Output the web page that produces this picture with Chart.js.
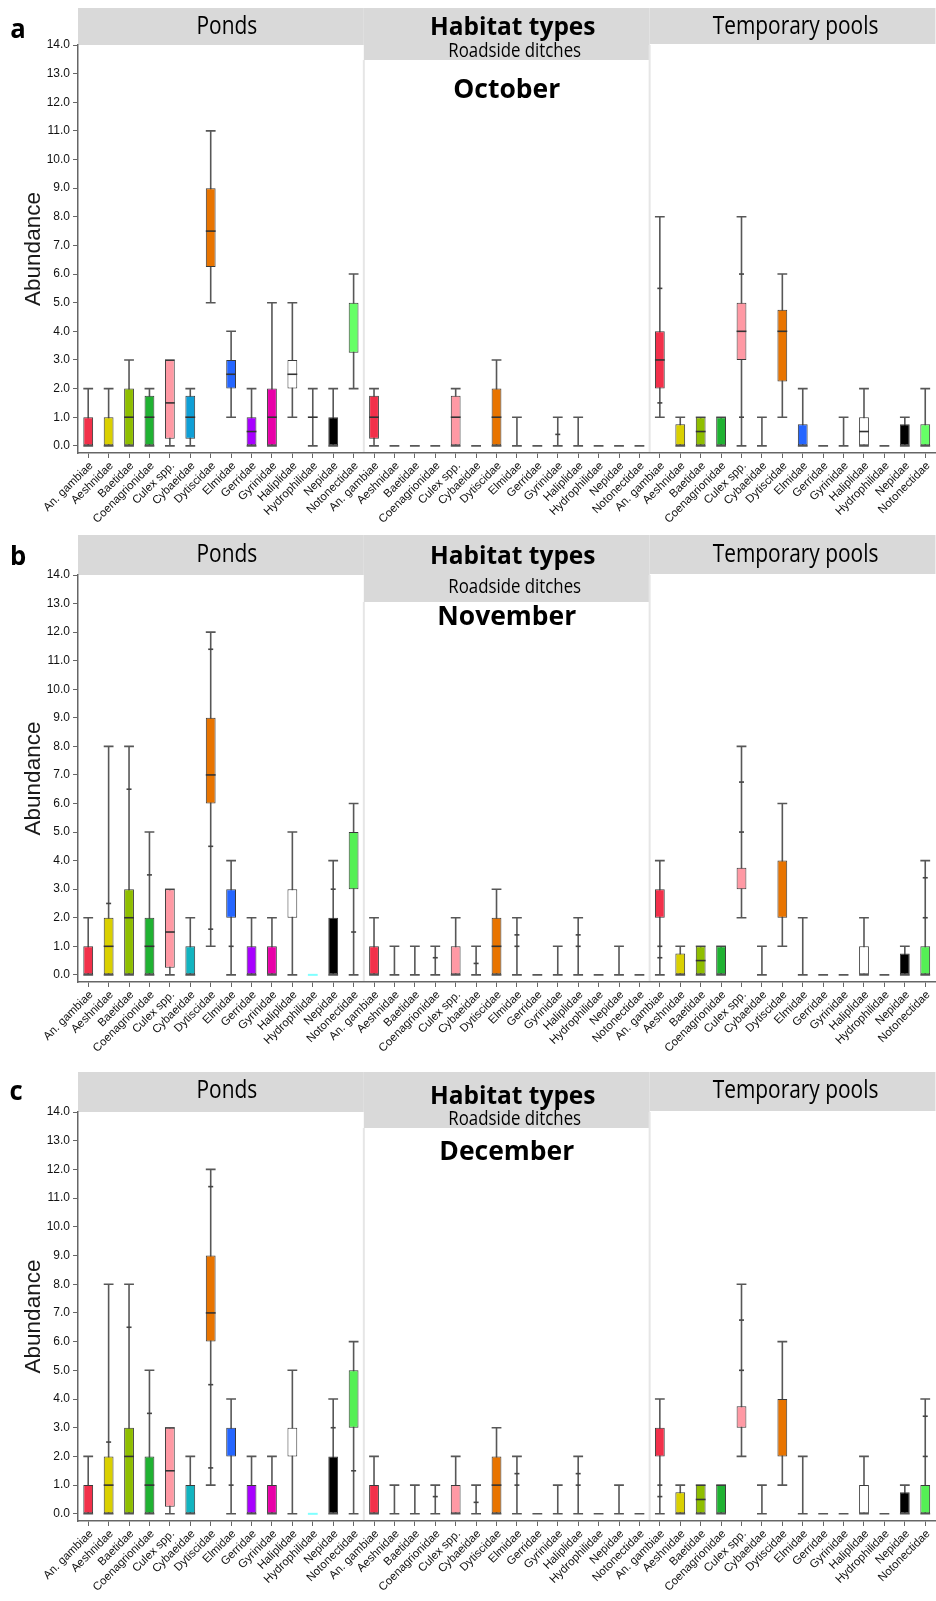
<!DOCTYPE html>
<html>
<head>
<meta charset="utf-8">
<script src="https://cdn.jsdelivr.net/npm/chart.js@4.4.1/dist/chart.umd.min.js"></script>
<style>
  html, body { margin: 0; padding: 0; background: #fff; }
  body { width: 936px; height: 1601px; position: relative; overflow: hidden; }
  .panel { position: absolute; left: 0; width: 936px; }
  canvas { display: block; }
</style>
</head>
<body>
<div class="panel" style="top:0px"><canvas id="octChart" width="936" height="540"></canvas></div>
<div class="panel" style="top:520px"><canvas id="novChart" width="936" height="550"></canvas></div>
<div class="panel" style="top:1050px"><canvas id="decChart" width="936" height="551"></canvas></div>
<script>
// habitats and families (x categories, repeated per habitat)
const habitats = ["Ponds", "Roadside ditches", "Temporary pools"];
const families = ["An. gambiae", "Aeshnidae", "Baetidae", "Coenagrionidae", "Culex spp.", "Cybaeidae",
  "Dytiscidae", "Elmidae", "Gerridae", "Gyrinidae", "Haliplidae", "Hydrophilidae", "Nepidae", "Notonectidae"];

// fill colour per family
const octColors = ["#f2304a", "#dad000", "#8fbe00", "#20b232", "#ff99a4", "#0f9fd6", "#e87400",
  "#2566ff", "#a800ff", "#e800a8", "#ffffff", "#80ffff", "#000000", "#66ff66"];
const novColors = ["#f2304a", "#dad000", "#8fbe00", "#20b232", "#ff99a4", "#12b4c0", "#e87400",
  "#2566ff", "#a800ff", "#e800a8", "#ffffff", "#80ffff", "#000000", "#55f055"];
const decColors = novColors;

// October: ponds | roadside ditches | temporary pools (null = not drawn)
const octMin = [0, 0, 0, 0, 0, 0, 5, 1, 0, 0, 1, 0, 0, 2,
  0, 0, 0, 0, 0, 0, 0, 0, 0, 0, 0, 0, 0, 0,
  1, 0, 0, 0, 0, 0, 1, 0, 0, 0, 0, 0, 0, 0];
const octQ1 = [0, 0, 0, 0, 0.25, 0.25, 6.25, 2, 0, 0, 2, null, 0, 3.25,
  0.25, null, null, null, 0, null, 0, null, null, null, null, null, null, null,
  2, 0, 0, 0, 3, null, 2.25, 0, null, null, 0, null, 0, 0];
const octMed = [null, null, 1, 1, 1.5, 1, 7.5, 2.5, 0.5, 1, 2.5, 1, null, null,
  1, null, null, null, 1, null, 1, null, null, null, null, null, null, null,
  3, null, 0.5, null, 4, null, 4, null, null, null, 0.5, null, null, null];
const octQ3 = [1, 1, 2, 1.75, 3, 1.75, 9, 3, 1, 2, 3, null, 1, 5,
  1.75, null, null, null, 1.75, null, 2, null, null, null, null, null, null, null,
  4, 0.75, 1, 1, 5, null, 4.75, 0.75, null, null, 1, null, 0.75, 0.75];
const octMax = [2, 2, 3, 2, 3, 2, 11, 4, 2, 5, 5, 2, 2, 6,
  2, 0, 0, 0, 2, 0, 3, 1, 0, 1, 1, 0, 0, 0,
  8, 1, 1, 1, 8, 1, 6, 2, 0, 1, 2, 0, 1, 2];
const octMarks = [[], [], [], [], [], [], [], [], [], [], [], [], [], [],
  [], [], [], [], [], [], [], [], [], [0.4], [], [], [], [],
  [5.5, 1.5], [], [], [], [6, 1], [], [], [], [], [], [], [], [], []];

// November
const novMin = [0, 0, 0, 0, 0, 0, 1, 0, 0, 0, 0, null, 0, 0,
  0, 0, 0, 0, 0, 0, 0, 0, 0, 0, 0, 0, 0, 0,
  0, 0, 0, 0, 2, 0, 1, 0, 0, 0, 0, 0, 0, 0];
const novQ1 = [0, 0, 0, 0, 0.25, 0, 6, 2, 0, 0, 2, 0, 0, 3,
  0, null, null, null, 0, null, 0, null, null, null, null, null, null, null,
  2, 0, 0, 0, 3, null, 2, null, null, null, 0, null, 0, 0];
const novMed = [null, 1, 2, 1, 1.5, null, 7, null, null, null, null, null, null, null,
  null, null, null, null, null, null, 1, null, null, null, null, null, null, null,
  null, null, 0.5, null, null, null, null, null, null, null, null, null, null, null];
const novQ3 = [1, 2, 3, 2, 3, 1, 9, 3, 1, 1, 3, 0, 2, 5,
  1, null, null, null, 1, null, 2, null, null, null, null, null, null, null,
  3, 0.75, 1, 1, 3.75, null, 4, null, null, null, 1, null, 0.75, 1];
const novMax = [2, 8, 8, 5, 3, 2, 12, 4, 2, 2, 5, null, 4, 6,
  2, 1, 1, 1, 2, 1, 3, 2, 0, 1, 2, 0, 1, 0,
  4, 1, 1, 1, 8, 1, 6, 2, 0, 0, 2, 0, 1, 4];
const novMarks = [[], [2.5], [6.5], [3.5], [], [], [11.4, 4.5, 1.6], [1], [], [], [], [], [3], [1.5],
  [], [], [], [0.6], [], [0.4], [], [1.4, 1], [], [], [1.4, 1], [], [], [],
  [1, 0.6], [], [], [], [6.75, 5], [], [], [], [], [], [], [], [], [3.4, 2]];

// December
const decMin = [0, 0, 0, 0, 0, 0, 1, 0, 0, 0, 0, null, 0, 0,
  0, 0, 0, 0, 0, 0, 0, 0, 0, 0, 0, 0, 0, 0,
  0, 0, 0, 0, 2, 0, 1, 0, 0, 0, 0, 0, 0, 0];
const decQ1 = [0, 0, 0, 0, 0.25, 0, 6, 2, 0, 0, 2, 0, 0, 3,
  0, null, null, null, 0, null, 0, null, null, null, null, null, null, null,
  2, 0, 0, 0, 3, null, 2, null, null, null, 0, null, 0, 0];
const decMed = [null, 1, 2, 1, 1.5, null, 7, null, null, null, null, null, null, null,
  null, null, null, null, null, null, 1, null, null, null, null, null, null, null,
  null, null, 0.5, null, null, null, null, null, null, null, null, null, null, null];
const decQ3 = [1, 2, 3, 2, 3, 1, 9, 3, 1, 1, 3, 0, 2, 5,
  1, null, null, null, 1, null, 2, null, null, null, null, null, null, null,
  3, 0.75, 1, 1, 3.75, null, 4, null, null, null, 1, null, 0.75, 1];
const decMax = [2, 8, 8, 5, 3, 2, 12, 4, 2, 2, 5, null, 4, 6,
  2, 1, 1, 1, 2, 1, 3, 2, 0, 1, 2, 0, 1, 0,
  4, 1, 1, 1, 8, 1, 6, 2, 0, 0, 2, 0, 1, 4];
const decMarks = [[], [2.5], [6.5], [3.5], [], [], [11.4, 4.5, 1.6], [1], [], [], [], [], [3], [1.5],
  [], [], [], [0.6], [], [0.4], [], [1.4, 1], [], [], [1.4, 1], [], [], [],
  [1, 0.6], [], [], [], [6.75, 5], [], [], [], [], [], [], [], [], [3.4, 2]];

const categories = habitats.flatMap(() => families);

// drawn text in a narrower face (the original uses Calibri)
function squeezeText(ctx, text, x, y, font, sx) {
  ctx.save();
  ctx.translate(x, y);
  ctx.scale(sx, 1);
  ctx.font = font;
  ctx.fillStyle = "#000";
  ctx.textAlign = "center";
  ctx.textBaseline = "middle";
  ctx.fillText(text, 0, 0);
  ctx.restore();
}

const boxPlugin = {
  id: "boxExtras",
  beforeDraw(chart, args, o) {
    const ctx = chart.ctx;
    const area = chart.chartArea;
    const x = chart.scales.x;
    const T = area.top;
    const s1 = x.getPixelForValue(13.5);
    const s2 = x.getPixelForValue(27.5);
    ctx.save();
    // header bands
    ctx.fillStyle = "#d9d9d9";
    ctx.fillRect(area.left, T - o.bandUp, s1 - area.left, o.bandUp);
    ctx.fillRect(s1, T - o.bandUp, s2 - s1, o.bandUp + o.roadDown);
    ctx.fillRect(s2, T - o.bandUp, area.right - s2, o.bandUp - 1);
    // habitat separators
    ctx.strokeStyle = "#e6e6e6";
    ctx.lineWidth = 2;
    ctx.beginPath();
    ctx.moveTo(s1, T + o.roadDown); ctx.lineTo(s1, area.bottom);
    ctx.moveTo(s2, T); ctx.lineTo(s2, area.bottom);
    ctx.stroke();
    ctx.restore();
    const mid = (s1 + s2) / 2;
    squeezeText(ctx, habitats[0], (area.left + s1) / 2 + 6, T + o.pondY, "25.5px 'Open Sans'", 0.82);
    squeezeText(ctx, habitats[2], (s2 + area.right) / 2 + 3, T + o.pondY, "25.5px 'Open Sans'", 0.82);
    squeezeText(ctx, "Habitat types", mid + 6, T + o.habY, "bold 25.5px 'Open Sans'", 0.96);
    squeezeText(ctx, habitats[1], mid + 8, T + o.roadY, "20.5px 'Open Sans'", 0.82);
    squeezeText(ctx, o.month, mid, T + o.monthY, "bold 27px 'Open Sans'", 0.98);
    squeezeText(ctx, o.letter, o.letterX, o.letterY, "bold 27px 'Open Sans'", 0.95);
  },
  beforeDatasetsDraw(chart, args, o) {
    const ctx = chart.ctx;
    const x = chart.scales.x, y = chart.scales.y;
    const half = (x.getPixelForValue(1) - x.getPixelForValue(0)) * 0.24;
    ctx.save();
    ctx.strokeStyle = "#575757";
    ctx.lineWidth = 1.6;
    o.min.forEach((lo, i) => {
      const hi = o.max[i];
      if (lo === null || hi === null) return;
      const cx = x.getPixelForValue(i);
      const y0 = y.getPixelForValue(lo), y1 = y.getPixelForValue(hi);
      ctx.beginPath();
      ctx.moveTo(cx, y0); ctx.lineTo(cx, y1);
      ctx.moveTo(cx - half, y0); ctx.lineTo(cx + half, y0);
      ctx.moveTo(cx - half, y1); ctx.lineTo(cx + half, y1);
      ctx.stroke();
    });
    ctx.restore();
  },
  afterDatasetsDraw(chart, args, o) {
    const ctx = chart.ctx;
    const x = chart.scales.x, y = chart.scales.y;
    const half = (x.getPixelForValue(1) - x.getPixelForValue(0)) * 0.24;
    ctx.save();
    o.q1.forEach((lo, i) => {
      if (lo === null || o.q3[i] !== lo) return;
      const cx = x.getPixelForValue(i);
      ctx.strokeStyle = o.colors[i % families.length];
      ctx.lineWidth = 2;
      ctx.beginPath();
      ctx.moveTo(cx - half, y.getPixelForValue(lo)); ctx.lineTo(cx + half, y.getPixelForValue(lo));
      ctx.stroke();
    });
    ctx.strokeStyle = "#333";
    ctx.lineWidth = 1.6;
    o.med.forEach((m, i) => {
      if (m === null) return;
      const cx = x.getPixelForValue(i);
      const py = y.getPixelForValue(m);
      ctx.beginPath();
      ctx.moveTo(cx - half, py); ctx.lineTo(cx + half, py);
      ctx.stroke();
    });
    ctx.strokeStyle = "#444";
    o.marks.forEach((list, i) => {
      const cx = x.getPixelForValue(i);
      list.forEach(v => {
        const py = y.getPixelForValue(v);
        ctx.beginPath();
        ctx.moveTo(cx - 2.5, py); ctx.lineTo(cx + 2.5, py);
        ctx.stroke();
      });
    });
    ctx.restore();
  }
};

const tickFont = { family: "'Liberation Sans', Arial, sans-serif", size: 12 };
const labelFont = { family: "'Liberation Sans', Arial, sans-serif", size: 11.5 };

function makePanel(p) {
  const colors42 = habitats.flatMap(() => p.colors);
  const boxes = p.q1.map((v, i) => (v === null || p.q3[i] === null || p.q3[i] === v) ? null : [v, p.q3[i]]);
  new Chart(document.getElementById(p.id), {
    type: "bar",
    data: {
      labels: categories,
      datasets: [{
        data: boxes,
        backgroundColor: colors42,
        borderColor: "#3a3a3a",
        borderWidth: 1,
        borderSkipped: false,
        categoryPercentage: 1,
        barPercentage: 0.48
      }]
    },
    options: {
      responsive: false,
      animation: false,
      layout: { padding: { top: p.padTop, bottom: p.padBottom, left: 0, right: 0 } },
      plugins: {
        legend: { display: false },
        tooltip: { enabled: false },
        boxExtras: p
      },
      scales: {
        x: {
          grid: { offset: false, drawOnChartArea: false, tickLength: 5, color: "#666" },
          border: { color: "#666", width: 1.5 },
          ticks: { autoSkip: false, maxRotation: 45, minRotation: 45, font: labelFont, color: "#111",
            padding: 1, labelOffset: 3 },
          afterFit(s) { s.height = 80; }
        },
        y: {
          min: -0.25,
          max: 14,
          grid: { drawOnChartArea: false, tickLength: 5, color: "#666" },
          border: { color: "#666", width: 1.5 },
          ticks: { stepSize: 1, includeBounds: false, font: tickFont, color: "#111", padding: 3,
            callback: v => v.toFixed(1) },
          title: { display: true, text: "Abundance", color: "#1a1a1a",
            font: { family: "'Liberation Sans', Arial, sans-serif", size: 22.5 }, padding: { top: 20, bottom: 0 } },
          afterFit(s) { s.width = 78; }
        }
      }
    },
    plugins: [boxPlugin]
  });
}

makePanel({ id: "octChart", month: "October", letter: "a", letterX: 18, letterY: 30,
  padTop: 45, padBottom: 7, bandUp: 37, roadDown: 15, pondY: -18, habY: -17, roadY: 6, monthY: 45,
  colors: octColors, min: octMin, q1: octQ1, med: octMed, q3: octQ3, max: octMax, marks: octMarks });
makePanel({ id: "novChart", month: "November", letter: "b", letterX: 18, letterY: 37,
  padTop: 55, padBottom: 8, bandUp: 40, roadDown: 27, pondY: -20, habY: -18, roadY: 12, monthY: 42,
  colors: novColors, min: novMin, q1: novQ1, med: novMed, q3: novQ3, max: novMax, marks: novMarks });
makePanel({ id: "decChart", month: "December", letter: "c", letterX: 16, letterY: 42,
  padTop: 62, padBottom: 0, bandUp: 40, roadDown: 16, pondY: -21, habY: -15, roadY: 7, monthY: 40,
  colors: decColors, min: decMin, q1: decQ1, med: decMed, q3: decQ3, max: decMax, marks: decMarks });
</script>
</body>
</html>
